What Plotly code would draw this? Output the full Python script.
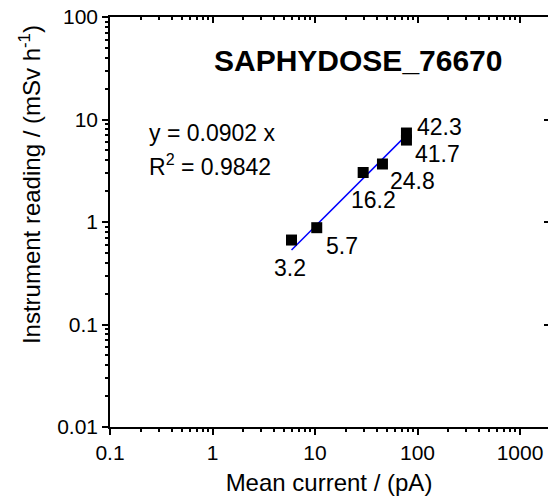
import math
import plotly.graph_objects as go

# Data
current_pA = [5.9, 10.4, 29.5, 45.5, 78.0, 78.0]
reading_mSv = [0.667, 0.88, 3.04, 3.68, 7.38, 6.3]
point_labels = ["3.2", "5.7", "16.2", "24.8", "42.3", "41.7"]
fit_slope = 0.0902
fit_r2 = 0.9842
title_text = "SAPHYDOSE_76670"
x_ticks = [0.1, 1, 10, 100, 1000]
x_ticktext = ["0.1", "1", "10", "100", "1000"]
y_ticks = [0.01, 0.1, 1, 10, 100]
y_ticktext = ["0.01", "0.1", "1", "10", "100"]

# label offsets (pixels) - style
label_shifts = [(-2, -28), (25, -18), (10, -27), (30, -17), (33, 6), (31, -14)]

FONT = "Liberation Sans, Arial, sans-serif"

fit_x = [min(current_pA), max(current_pA)]
fit_y = [fit_slope * v for v in fit_x]

x_minor = [m * d for d in [0.1, 1, 10, 100, 1000] for m in range(2, 10)]
y_minor = [m * d for d in [0.01, 0.1, 1, 10] for m in range(2, 10)]

fig = go.Figure()
fig.add_trace(go.Scatter(x=fit_x, y=fit_y, mode="lines",
                         line=dict(color="#0000FF", width=1.5), showlegend=False))
fig.add_trace(go.Scatter(x=current_pA, y=reading_mSv, mode="markers",
                         marker=dict(symbol="square", size=11, color="black"),
                         showlegend=False))
# empty traces to activate mirror axes
fig.add_trace(go.Scatter(x=[], y=[], xaxis="x2", yaxis="y", showlegend=False))
fig.add_trace(go.Scatter(x=[], y=[], xaxis="x", yaxis="y2", showlegend=False))

xr = [-1, 3.273]
yr = [-2, 2]
axis_common = dict(type="log", showgrid=False, zeroline=False, linecolor="black",
                   tickcolor="black", tickwidth=1.5, linewidth=1.5)

fig.update_layout(
    width=548, height=496,
    margin=dict(l=110, r=0, t=17, b=69),
    paper_bgcolor="white", plot_bgcolor="white",
    font=dict(family=FONT, size=21, color="black"),
    xaxis=dict(**axis_common, range=xr, showline=True, ticks="outside", ticklen=6,
               tickmode="array", tickvals=x_ticks, ticktext=x_ticktext,
               minor=dict(tickmode="array", tickvals=x_minor, ticks="outside", ticklen=3,
                          tickcolor="black", tickwidth=1.5),
               title=dict(text="Mean current / (pA)", standoff=12, font=dict(size=24)),
               anchor="y"),
    xaxis2=dict(**axis_common, range=xr, overlaying="x", side="top", anchor="y",
                showline=True, ticks="inside", ticklen=6, showticklabels=False,
                tickmode="array", tickvals=x_ticks,
                minor=dict(tickmode="array", tickvals=x_minor, ticks="inside", ticklen=3,
                           tickcolor="black", tickwidth=1.5)),
    yaxis=dict(**axis_common, range=yr, showline=True, ticks="outside", ticklen=6,
               tickmode="array", tickvals=y_ticks, ticktext=y_ticktext,
               minor=dict(tickmode="array", tickvals=y_minor, ticks="outside", ticklen=3,
                          tickcolor="black", tickwidth=1.5),
               anchor="x"),
    yaxis2=dict(**axis_common, range=yr, overlaying="y", side="right", anchor="x",
                showline=False, ticks="inside", ticklen=4, showticklabels=False,
                tickmode="array", tickvals=y_ticks),
)

annotations = [
    dict(text="Instrument reading / (mSv h<sup>-1</sup>)", xref="paper", yref="paper",
         x=-0.1826, y=0.59, textangle=-90, xanchor="center", yanchor="middle",
         showarrow=False, font=dict(size=24)),
    dict(text="<b>" + title_text + "</b>", xref="paper", yref="paper", x=0.567, y=0.895,
         xanchor="center", yanchor="middle", showarrow=False, font=dict(size=30)),
    dict(text=f"y = {fit_slope} x", xref="paper", yref="paper", x=0.085, y=0.716,
         xanchor="left", yanchor="middle", showarrow=False, font=dict(size=23)),
    dict(text=f"R<sup>2</sup> = {fit_r2}", xref="paper", yref="paper", x=0.085, y=0.639,
         xanchor="left", yanchor="middle", showarrow=False, font=dict(size=23)),
]
for xv, yv, lab, (dx, dy) in zip(current_pA, reading_mSv, point_labels, label_shifts):
    annotations.append(dict(text=lab, x=math.log10(xv), y=math.log10(yv), xref="x", yref="y",
                            xshift=dx, yshift=dy, showarrow=False,
                            xanchor="center", yanchor="middle", font=dict(size=23)))
fig.update_layout(annotations=annotations)

fig.write_html("out.html")
